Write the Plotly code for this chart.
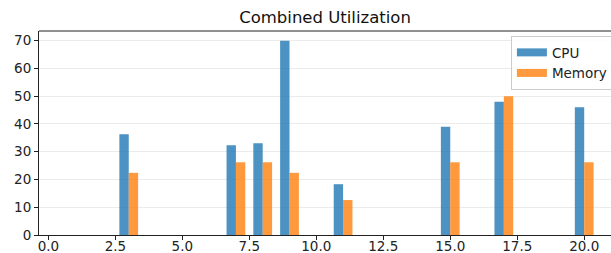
import plotly.graph_objects as go

positions = [3, 7, 8, 9, 11, 15, 17, 20]
cpu = [36.3, 32.3, 33.1, 70, 18.3, 39, 48, 46]
memory = [22.4, 26.2, 26.2, 22.4, 12.6, 26.2, 50, 26.2]
x_ticks = [0, 2.5, 5, 7.5, 10, 12.5, 15, 17.5, 20]
x_tick_labels = ["0.0", "2.5", "5.0", "7.5", "10.0", "12.5", "15.0", "17.5", "20.0"]
y_ticks = [0, 10, 20, 30, 40, 50, 60, 70]

bar_w = 0.35
font = "DejaVu Sans"
cpu_color = "rgba(31,119,180,0.8)"
mem_color = "rgba(255,127,14,0.8)"

fig = go.Figure()
fig.add_trace(go.Bar(x=positions, y=cpu, name="CPU", width=bar_w, offset=-bar_w,
                     marker=dict(color=cpu_color, line=dict(width=0)), showlegend=False))
fig.add_trace(go.Bar(x=positions, y=memory, name="Memory", width=bar_w, offset=0,
                     marker=dict(color=mem_color, line=dict(width=0)), showlegend=False))
# legend entries with wide rectangular swatches
fig.add_trace(go.Scatter(x=[None], y=[None], mode="lines", name="CPU",
                         line=dict(color=cpu_color, width=8)))
fig.add_trace(go.Scatter(x=[None], y=[None], mode="lines", name="Memory",
                         line=dict(color=mem_color, width=8)))

fig.update_layout(
    width=611, height=253,
    margin=dict(l=39, r=0, t=31, b=18, autoexpand=False),
    paper_bgcolor="white", plot_bgcolor="white",
    font=dict(family=font, size=13.5, color="#222"),
    title=dict(text="Combined Utilization", x=0.532, xanchor="center", y=0.93, yanchor="middle",
               font=dict(family=font, size=16.5, color="#111")),
    barmode="overlay",
    showlegend=True,
    legend=dict(x=0.825, y=0.975, xanchor="left", yanchor="top",
                bordercolor="#cccccc", borderwidth=1, bgcolor="rgba(255,255,255,0.9)",
                font=dict(family=font, size=13.5, color="#222"),
                itemwidth=30, tracegroupgap=0),
    xaxis=dict(range=[-0.35, 21.0], tickvals=x_ticks, ticktext=x_tick_labels,
               ticks="outside", ticklen=4, tickcolor="#222", showgrid=False,
               ticklabelstandoff=-5,
               showline=True, linecolor="#222", linewidth=1, mirror=False, zeroline=False,
               tickfont=dict(family=font, size=13.5, color="#222")),
    yaxis=dict(range=[0, 73.5], tickvals=y_ticks, ticks="outside", ticklen=4, tickcolor="#222",
               showgrid=True, gridcolor="#ebebeb", gridwidth=1,
               showline=True, linecolor="#222", linewidth=1, zeroline=False,
               tickfont=dict(family=font, size=13.5, color="#222")),
)
# top spine
fig.add_shape(type="line", xref="paper", yref="paper", x0=0, x1=1, y0=1, y1=1,
              line=dict(color="#222", width=1))

fig.write_html("out.html", config={"displayModeBar": False},
               post_script="document.body.style.margin='0';document.body.style.overflow='hidden';")
